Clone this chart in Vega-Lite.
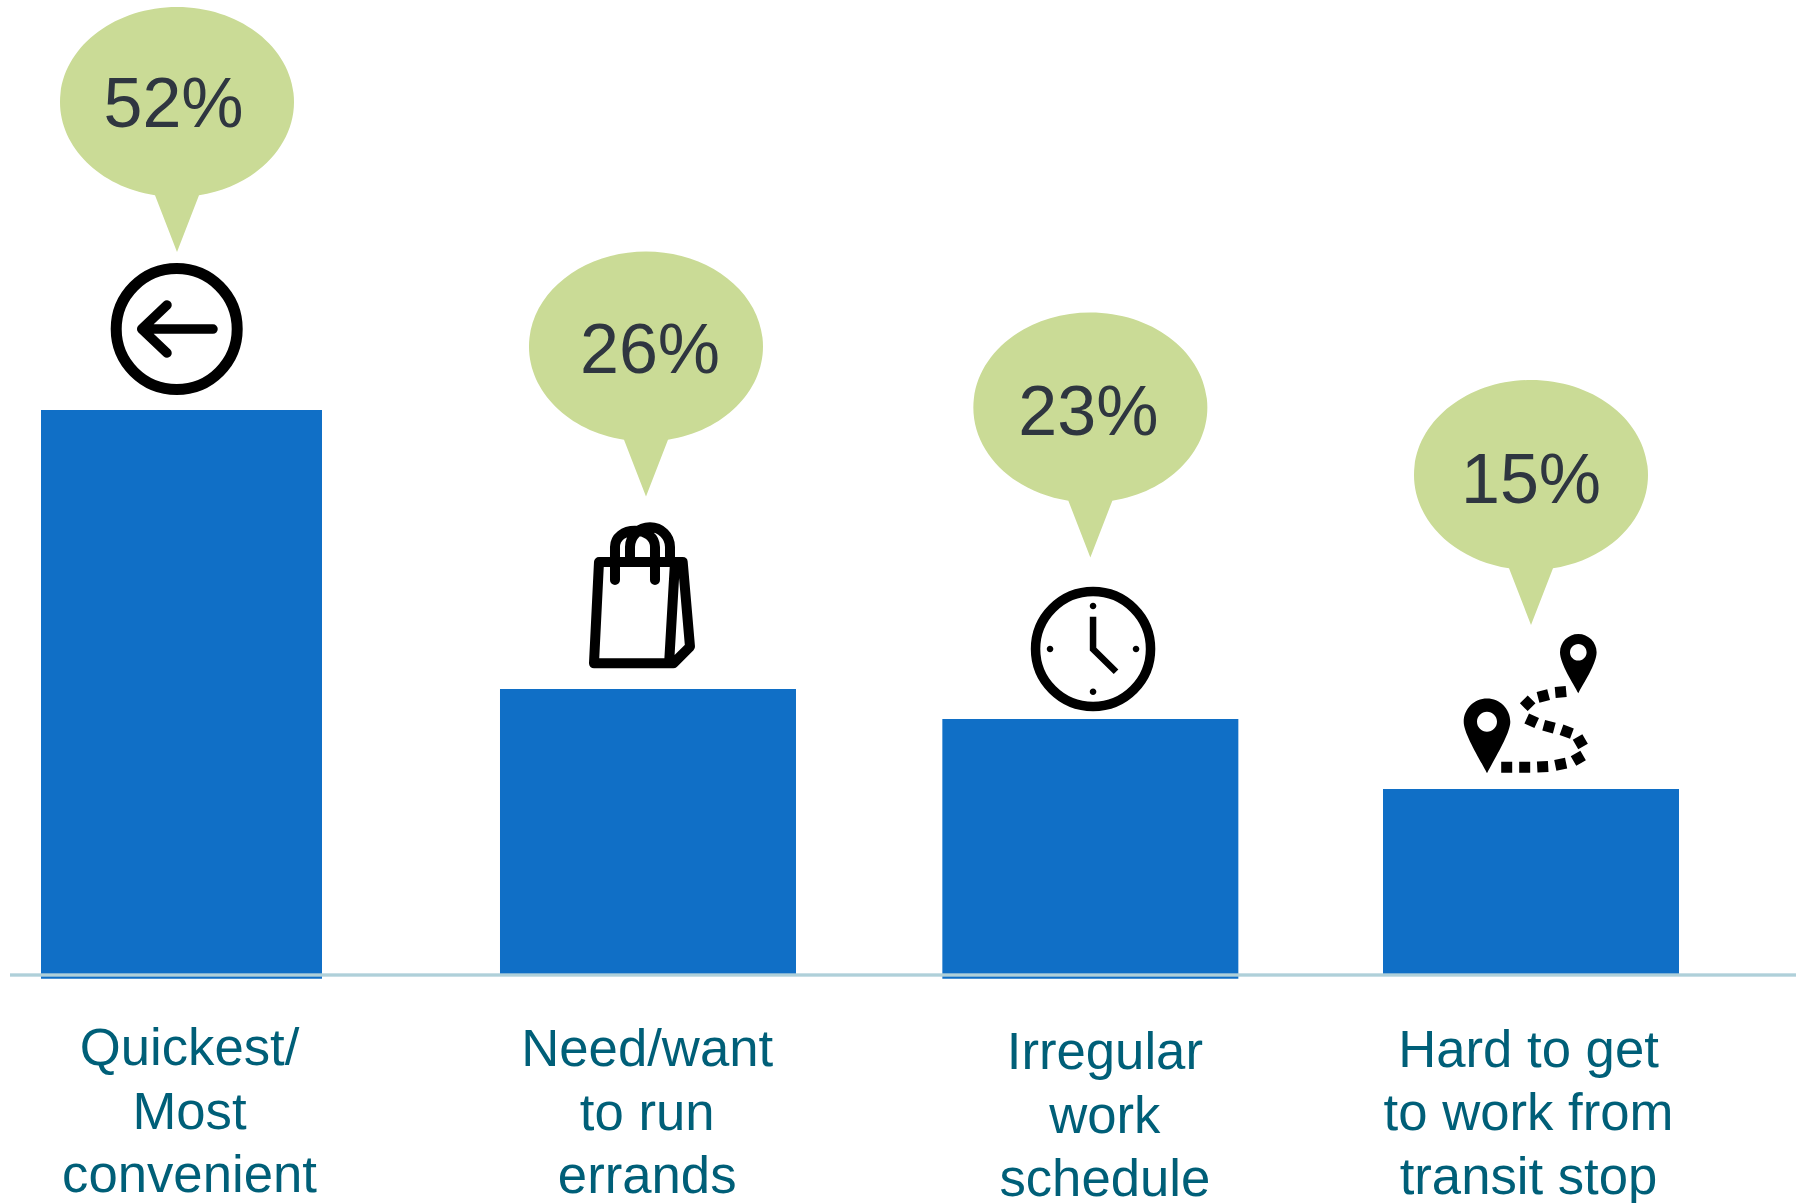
{
"$schema":"https://vega.github.io/schema/vega-lite/v6.json",
"width":1786,"height":975,
"autosize":{"type":"none"},
"padding":{"left":10,"right":5,"top":0,"bottom":228},
"background":"white",
"config":{"view":{"stroke":null}},
"data":{"values":[
{"reason":"Quickest/\nMost\nconvenient","pct":"52%","share":52,"base":-0.35},
{"reason":"Need/want\nto run\nerrands","pct":"26%","share":26.32,"base":0},
{"reason":"Irregular\nwork\nschedule","pct":"23%","share":23.56,"base":-0.35},
{"reason":"Hard to get\nto work from\ntransit stop","pct":"15%","share":17.12,"base":0}
]},
"encoding":{
"x":{"field":"reason","type":"nominal","sort":null,
"scale":{"type":"point","padding":0,"range":[171.5,1521],"domain":["Quickest/\nMost\nconvenient","a1","a2","a3","a4","a5","a6","a7","a8","a9","a10","a11","a12","a13","a14","a15","a16","Need/want\nto run\nerrands","b1","b2","b3","b4","b5","b6","b7","b8","b9","b10","b11","b12","b13","b14","b15","Irregular\nwork\nschedule","c1","c2","c3","c4","c5","c6","c7","c8","c9","c10","c11","c12","c13","c14","c15","Hard to get\nto work from\ntransit stop"]},
"axis":{"title":null,"domain":false,"ticks":false,"grid":false,
"values":["Quickest/\nMost\nconvenient","Need/want\nto run\nerrands","Irregular\nwork\nschedule","Hard to get\nto work from\ntransit stop"],
"labelExpr":"split(datum.label, '\\n')",
"labelAngle":0,"labelFont":"Liberation Sans","labelFontSize":52.7,"labelColor":"#005f78","labelLineHeight":63.7,
"labelOverlap":false,"labelBound":false,"labelFlush":false,"labelLimit":0,"labelBaseline":"top","labelAlign":"center",
"labelPadding":{"condition":[{"test":"indexof(datum.value,'Irregular')>=0","value":51.5},{"test":"indexof(datum.value,'Need')>=0","value":48.5},{"test":"indexof(datum.value,'Hard')>=0","value":49}],"value":47.5},
"labelOffset":{"condition":[{"test":"indexof(datum.value,'Quickest')>=0","value":7.5},{"test":"indexof(datum.value,'Irregular')>=0","value":14},{"test":"indexof(datum.value,'Hard')>=0","value":-3}],"value":-3}}},
"y":{"field":"share","type":"quantitative","scale":{"domain":[0,89.74],"nice":false,"zero":false},"axis":null}
},
"layer":[
{"transform":[{"filter":"datum.pct!='26%'"}],"mark":{"type":"bar","color":"#106fc6"},
"encoding":{"y2":{"field":"base"},"size":{"condition":{"test":"datum.pct=='52%'","value":281},"value":296}}},
{"transform":[{"filter":{"field":"pct","equal":"26%"}}],"mark":{"type":"bar","color":"#106fc6","xOffset":-1.7},
"encoding":{"y2":{"field":"base"},"size":{"value":296}}},
{"mark":{"type":"rule","color":"#afd0d9","strokeWidth":2.5},"encoding":{"x":{"value":0},"x2":{"value":1786},"y":{"datum":0}}},
{"mark":{"type":"point","filled":true,"opacity":1,"color":"#cadb96"},
"encoding":{"size":{"value":4},"shape":{"field":"pct","type":"nominal","legend":null,"scale":{"domain":["52%","26%","23%","15%"],"range":[
"M17.5,-214.7L-4.5,-158L-26.5,-214.7A117,95 0 1 1 17.5,-214.7Z",
"M18.3,-249.2L-3.7,-192.5L-25.7,-249.2A117,95 0 1 1 18.3,-249.2Z",
"M22,-218.3L0,-161.6L-22,-218.3A117,95 0 1 1 22,-218.3Z",
"M22,-220.7L0,-164L-22,-220.7A117,95 0 1 1 22,-220.7Z"]}}}},
{"transform":[{"filter":{"field":"pct","equal":"52%"}}],
"mark":{"type":"point","filled":false,"opacity":1,"stroke":"black","strokeWidth":11,
"shape":"M-65.3,-81A60.5,60.5 0 1 1 55.7,-81A60.5,60.5 0 1 1 -65.3,-81Z"},"encoding":{"size":{"value":4}}},
{"transform":[{"filter":{"field":"pct","equal":"52%"}}],
"mark":{"type":"point","filled":false,"opacity":1,"stroke":"black","strokeWidth":9.5,"strokeCap":"round","strokeJoin":"round",
"shape":"M31.5,-81L-39.8,-81M-14.5,-105L-39.8,-81L-14.5,-57"},"encoding":{"size":{"value":4}}},
{"transform":[{"filter":{"field":"pct","equal":"26%"}}],
"mark":{"type":"point","filled":false,"opacity":1,"stroke":"black","strokeWidth":10,"strokeCap":"round","strokeJoin":"round","xOffset":-1.7,
"shape":"M-49,-127L34.7,-127L42,-42.3L25.3,-25.7L-54,-25.7Z M27,-127L21.3,-29 M-33,-109L-33,-142C-33,-152 -24,-158.3 -13,-158.3C-2,-158.3 7,-152 7,-142L7,-109 M-18,-129L-18,-142C-18,-153 -9,-161.7 2,-161.7C13,-161.7 22,-153 22,-142L22,-129"},"encoding":{"size":{"value":4}}},
{"transform":[{"filter":{"field":"pct","equal":"23%"}}],
"mark":{"type":"point","filled":false,"opacity":1,"stroke":"black","strokeWidth":9.5,
"shape":"M-54.8,-70A57.5,57.5 0 1 1 60.2,-70A57.5,57.5 0 1 1 -54.8,-70Z"},"encoding":{"size":{"value":4}}},
{"transform":[{"filter":{"field":"pct","equal":"23%"}}],
"mark":{"type":"point","filled":true,"opacity":1,"color":"black",
"shape":"M-0.55,-102.3L5.95,-102.3L5.95,-71.3L28,-49.6L23.4,-45L-0.55,-68.6Z M-0.6,-113A3.3,3.3 0 1 1 6,-113A3.3,3.3 0 1 1 -0.6,-113Z M-0.6,-27.3A3.3,3.3 0 1 1 6,-27.3A3.3,3.3 0 1 1 -0.6,-27.3Z M-43.6,-70A3.3,3.3 0 1 1 -37,-70A3.3,3.3 0 1 1 -43.6,-70Z M42.4,-70A3.3,3.3 0 1 1 49,-70A3.3,3.3 0 1 1 42.4,-70Z"},"encoding":{"size":{"value":4}}},
{"transform":[{"filter":{"field":"pct","equal":"15%"}}],
"mark":{"type":"point","filled":true,"opacity":1,"color":"black",
"shape":"M-67.3,-67.3A23.3,23.3 0 0 1 -20.7,-67.3C-20.7,-55 -38,-28 -44,-15.7C-50,-28 -67.3,-55 -67.3,-67.3Z M-54,-67.3A10,10 0 0 0 -34,-67.3A10,10 0 0 0 -54,-67.3Z M29,-136.7A18.3,18.3 0 0 1 65.6,-136.7C65.6,-125 52,-105 47.3,-95.7C42.6,-105 29,-125 29,-136.7Z M39,-136.7A8.3,8.3 0 0 0 55.6,-136.7A8.3,8.3 0 0 0 39,-136.7Z M-29.8,-27.2L-18.8,-27.2L-18.8,-16.2L-29.8,-16.2Z M-11.8,-27.2L-0.8,-27.2L-0.8,-16.2L-11.8,-16.2Z M5.9,-27.5L16.9,-28.1L17.5,-17.1L6.5,-16.5Z M23.2,-29L34,-31.2L36.2,-20.4L25.4,-18.2Z M39.75,-32.75L49.35,-38.25L54.85,-28.65L45.25,-23.15Z M51.35,-54.85L56.85,-45.25L47.25,-39.75L41.75,-49.35Z M32.4,-64.4L42.8,-60.6L39,-50.2L28.6,-54Z M14.1,-69L24.7,-66.2L21.9,-55.6L11.3,-58.4Z M-2,-75.6L8,-71L3.4,-61L-6.6,-65.6Z M-11.1,-85.7L-3.3,-93.5L4.5,-85.7L-3.3,-77.9Z M5.6,-96.9L16.2,-99.7L19,-89.1L8.4,-86.3Z M23.7,-102L34.7,-103L35.7,-92L24.7,-91Z"},"encoding":{"size":{"value":4}}},
{"transform":[{"filter":{"field":"pct","equal":"52%"}}],"mark":{"type":"text","font":"Liberation Sans","fontSize":70,"color":"#2f3640","baseline":"middle","dx":-8,"dy":-304},"encoding":{"text":{"field":"pct"}}},
{"transform":[{"filter":{"field":"pct","equal":"26%"}}],"mark":{"type":"text","font":"Liberation Sans","fontSize":70,"color":"#2f3640","baseline":"middle","dx":0.3,"dy":-337.5},"encoding":{"text":{"field":"pct"}}},
{"transform":[{"filter":{"field":"pct","equal":"23%"}}],"mark":{"type":"text","font":"Liberation Sans","fontSize":70,"color":"#2f3640","baseline":"middle","dx":-2,"dy":-305},"encoding":{"text":{"field":"pct"}}},
{"transform":[{"filter":{"field":"pct","equal":"15%"}}],"mark":{"type":"text","font":"Liberation Sans","fontSize":70,"color":"#2f3640","baseline":"middle","dx":0,"dy":-306.5},"encoding":{"text":{"field":"pct"}}}
]
}
